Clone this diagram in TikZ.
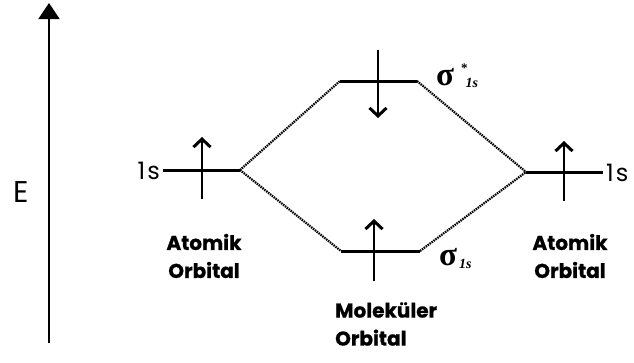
\documentclass[tikz,border=0pt]{standalone}
\usepackage{fontspec}
\setmainfont{Poppins}
\newfontfamily\serifg{Liberation Serif}
\usetikzlibrary{arrows.meta}
\tikzset{
  level/.style={line width=3pt},
  link/.style={line width=2.2pt, dash pattern=on 1.5pt off 0.9pt},
  spin/.style={line width=1.6pt, -{Straight Barb[length=8pt,width=17pt,line width=3pt]}},
  lbl/.style={inner sep=0pt, font=\bfseries\addfontfeatures{FakeBold=0.8}\fontsize{20}{28}\selectfont},
  orb/.style={inner sep=0pt, font=\fontsize{24}{24}\selectfont},
  sig/.style={inner sep=0pt, font=\serifg\bfseries\fontsize{33}{33}\selectfont}
}
\begin{document}
\begin{tikzpicture}[x=1pt,y=-1pt]
\useasboundingbox (0,0) rectangle (634,362);
% energy axis
\coordinate (ebot) at (49,343);
\coordinate (etop) at (49,3);
\draw[line width=2pt, -{Triangle[length=16pt,width=21pt]}] (ebot) -- (etop);
\node[inner sep=0pt, font=\fontsize{30}{30}\selectfont] (E) at (21,192) {E};
% levels
\coordinate (al1) at (163,170); \coordinate (al2) at (240,170);
\coordinate (sa1) at (340,81);  \coordinate (sa2) at (417,81);
\coordinate (sb1) at (341,251); \coordinate (sb2) at (420,251);
\coordinate (ar1) at (526,172); \coordinate (ar2) at (603,172);
\draw[level] (al1) -- (al2);
\draw[level] (sa1) -- (sa2);
\draw[level] (sb1) -- (sb2);
\draw[level] (ar1) -- (ar2);
% correlation lines
\draw[link] (al2) -- (sa1);
\draw[link] (al2) -- (sb1);
\draw[link] (sa2) -- (ar1);
\draw[link] (sb2) -- (ar1);
% electrons
\coordinate (e1a) at (202,199); \coordinate (e1b) at (202,137);
\coordinate (e2a) at (378,50);  \coordinate (e2b) at (378,118);
\coordinate (e3a) at (374,281); \coordinate (e3b) at (374,219);
\coordinate (e4a) at (564,201); \coordinate (e4b) at (564,141);
\draw[spin] (e1a) -- (e1b);
\draw[spin] (e2a) -- (e2b);
\draw[spin] (e3a) -- (e3b);
\draw[spin] (e4a) -- (e4b);
% labels
\node[orb, anchor=east] (ls) at (160,171) {1\hspace{2pt}s};
\node[orb, anchor=west] (rs) at (606,173) {1\hspace{2pt}s};
\node[sig, anchor=base west] (sst) at (436,85) {σ\hspace{7pt}\raisebox{13pt}{\fontsize{13}{13}\selectfont *}\hspace{-2pt}\raisebox{-2pt}{\fontsize{14}{14}\selectfont\itshape 1s}};
\node[sig, anchor=base west] (ss) at (439,265) {σ\hspace{2pt}\raisebox{-3pt}{\fontsize{14}{14}\selectfont\itshape 1s}};
\node[lbl, align=center] (aol) at (204,256) {Atomik\\Orbital};
\node[lbl, align=center] (aor) at (570,256) {Atomik\\Orbital};
\node[lbl, align=left, anchor=west] (mo) at (335,324) {Moleküler\\Orbital};
\end{tikzpicture}
\end{document}
